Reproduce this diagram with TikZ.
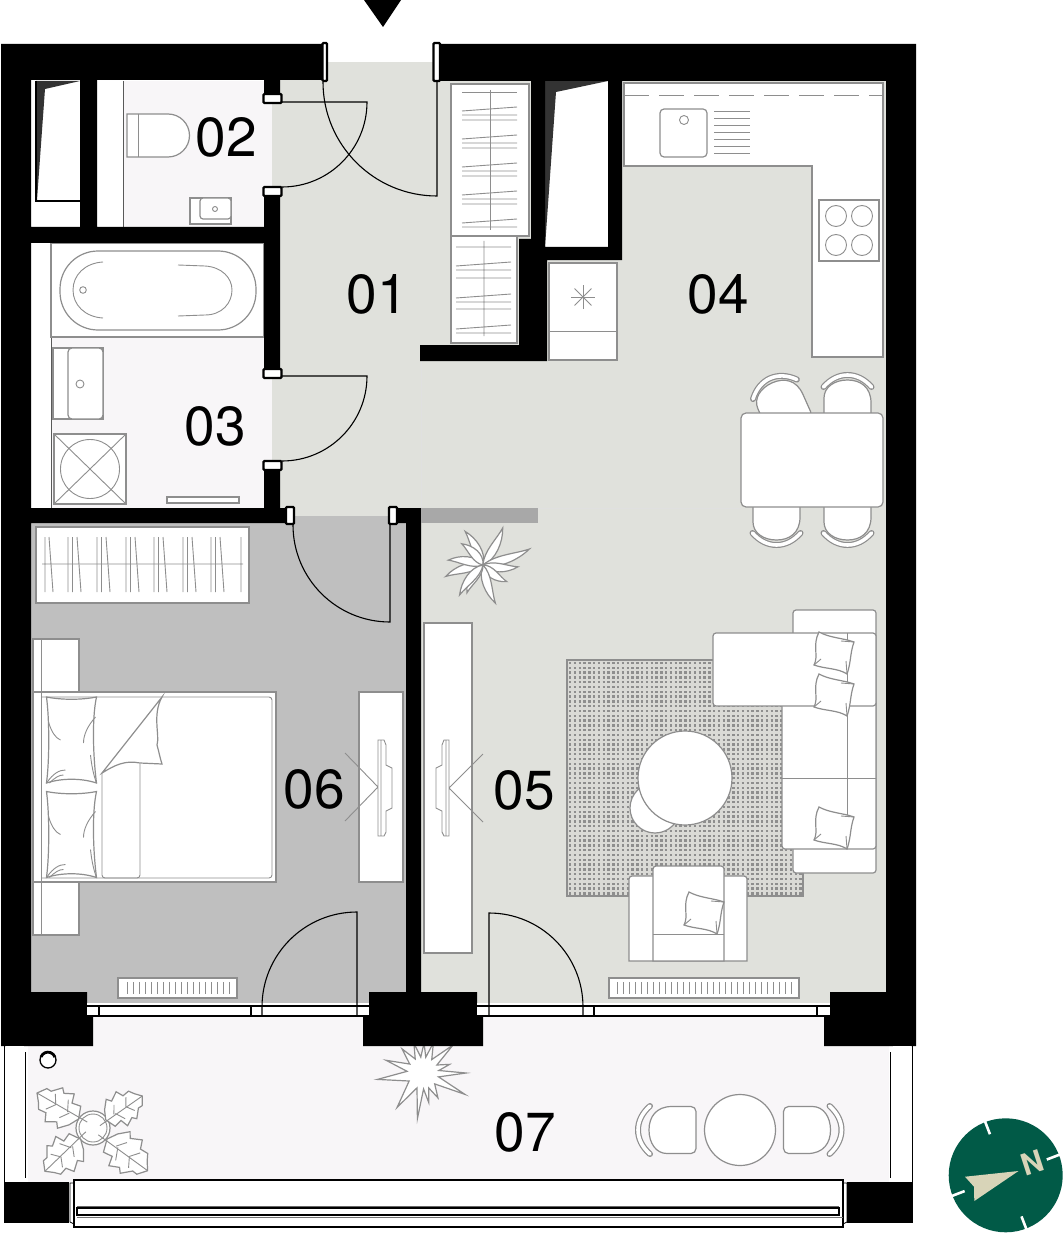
\documentclass[tikz,border=0pt]{standalone}
\usepackage{fontspec}
\setmainfont{TeX Gyre Heros}

\definecolor{floorgray}{HTML}{E0E1DC}
\definecolor{bedgray}{HTML}{BFBFBF}
\definecolor{wetlight}{HTML}{F8F6F8}
\definecolor{linegray}{HTML}{8E8E8E}
\definecolor{rugback}{HTML}{DADAD6}
\definecolor{compassgreen}{HTML}{015A47}
\definecolor{compassbeige}{HTML}{D8D4B8}

\tikzset{
  wall/.style={fill=black},
  furn/.style={draw=linegray, fill=white, line width=1.2pt},
  thinline/.style={draw=linegray, line width=0.9pt},
  doorline/.style={draw=black, line width=1.1pt},
  windowline/.style={draw=black, line width=1.2pt},
  jamb/.style={draw=black, fill=white, line width=2.4pt, rounded corners=1pt},
  roomlabel/.style={font=\fontsize{55}{55}\selectfont, inner sep=0pt},
  rugdots/.style={draw=linegray, line width=2.3pt, dash pattern=on 2.3pt off 2.5pt},
  pics/chair/.style={code={
    \draw[furn] (0,-33) .. controls (13,-33) and (23.5,-26) .. (23.5,-10) [rounded corners=5pt] -- (23.5,14) -- (-23.5,14)
      -- (-23.5,-10) [sharp corners] .. controls (-23.5,-26) and (-13,-33) .. (0,-33) -- cycle;
    \draw[draw=linegray, line width=6pt, line cap=round]
      (-24,-#1+12) .. controls (-10,-#1-4) and (10,-#1-4) .. (24,-#1+12);
    \draw[draw=white, line width=3.6pt, line cap=round]
      (-24,-#1+12) .. controls (-10,-#1-4) and (10,-#1-4) .. (24,-#1+12);
  }},
  pics/cushion/.style={code={
    \draw[furn] (-14,-21) .. controls (-3,-15) and (10,-15) .. (21,-11)
      .. controls (17,0) and (18,10) .. (14,21)
      .. controls (5,15) and (-8,16) .. (-19,12)
      .. controls (-14,3) and (-21,-8) .. (-14,-21) -- cycle;
    \draw[thinline] (14,21) -- (13,8) (-19,12) -- (-12,6) (21,-11) -- (8,-12);
  }},
  pics/bedpillow/.style={code={
    \draw[furn] (-25,-43) .. controls (-10,-40) and (10,-40) .. (25,-43)
      .. controls (20,-20) and (22,20) .. (25,43)
      .. controls (10,38) and (-10,38) .. (-25,43)
      .. controls (-22,20) and (-22,-20) .. (-25,-43) -- cycle;
    \draw[thinline] (-23,-18) .. controls (-20,-8) and (-16,-2) .. (-11,0)
      (24,-23) .. controls (16,-14) and (12,-5) .. (12,3)
      (-25,43) .. controls (-18,33) and (-12,30) .. (-6,30)
      (-22,43) .. controls (-16,37) and (-12,35) .. (-8,35)
      (19,15) .. controls (20,25) and (22,35) .. (25,43);
  }},
  pics/oakleaf/.style={code={
    \draw[furn] (17,0) -- (22,12) -- (31,10) -- (34,19) -- (43,14) -- (47,18) -- (55,9) -- (60,9) -- (66,0)
      -- (60,-7) -- (56,-13) -- (48,-12) -- (44,-20) -- (34,-14) -- (30,-19) -- (22,-10) -- cycle;
    \draw[thinline] (8,2) -- (66,0) (30,0) -- (36,11) (44,0) -- (50,9) (28,0) -- (34,-9) (44,0) -- (50,-9);
  }},
}

\begin{document}
\begin{tikzpicture}[x=1pt, y=-1pt]
  \useasboundingbox (0,0) rectangle (1063,1233);
  \fill[white] (0,0) rectangle (1063,1233);

  % floors
  \fill[floorgray] (272,62) rectangle (436,516);
  \fill[floorgray] (421,81) rectangle (886,1004);
  \fill[wetlight] (123,81) rectangle (272,227);
  \fill[wetlight] (51,243) rectangle (272,508);
  \fill[bedgray] (31,516) rectangle (406,1004);
  \fill[wetlight] (28,1046) rectangle (889,1182);
  \fill[wetlight] (93,1017) rectangle (824,1046);
  \draw[draw=black!12, line width=0.6pt] (421,361) -- (421,508) -- (741,508);
  \draw[draw=black!65, line width=0.9pt] (123,81) -- (123,227) (51,243) -- (51,508);

  % rug
  \fill[rugback] (567,660) rectangle (803,896);
  \foreach \rowy in {663,667.8,...,895} {
    \draw[rugdots] (569,\rowy) -- (802,\rowy);
  }
  \draw[draw=linegray, line width=1.4pt] (567,660) rectangle (803,896);

  % plants
  \foreach \ang/\len in {197/39,172/35,118/38,135/30,62/42,19/49,-3/35,-35/29,-72/40,-120/32,-128/38} {
    \draw[furn, shift={(483,565)}, rotate=\ang]
      (0,0) .. controls ({0.25*\len},9) and ({0.7*\len},7) .. (\len,0)
      .. controls ({0.7*\len},0) and ({0.3*\len},-6) .. (0,0) -- cycle;
  }
  \draw[furn, shift={(423,1073)}] (0:43) \foreach \ang/\len/\dent in {27/47/14,59/29/43,79/30/69,97/46/88,127/43/112,172/46/150,199/39/186,229/32/214,253/31/241,272/30/262,289/32/280,317/41/303,342/28/330,360/43/351} {
      -- (\dent:16) -- (\ang:\len)
    } -- cycle;
  \draw[furn] (93,1128) circle[radius=17];
  \draw[thinline] (93,1128) circle[radius=14];
  \pic[rotate=148] at (93,1128) {oakleaf};
  \pic[rotate=33, scale=0.89] at (93,1128) {oakleaf};
  \pic[rotate=222, scale=0.98] at (93,1128) {oakleaf};
  \pic[rotate=-38, scale=1.05] at (93,1128) {oakleaf};

  % bathroom
  \draw[furn] (51,243) rectangle (264,337);
  \draw[furn, rounded corners=38pt] (60,251) rectangle (256,330);
  \draw[thinline] (103,262) .. controls (85,263) and (73,275) .. (73,290) .. controls (73,305) and (85,317) .. (103,318)
    (178,265) -- (205,266) .. controls (222,267) and (232,278) .. (232,290) .. controls (232,303) and (222,315) .. (205,315) -- (178,316);
  \draw[thinline] (83,290) circle[radius=3.3];
  \draw[furn] (53,348) rectangle (103,419);
  \draw[furn, rounded corners=4pt] (68,348) rectangle (103,419);
  \draw[thinline] (80,384) circle[radius=4];
  \draw[furn] (54,434) rectangle (126,504);
  \draw[thinline] (90,469) circle[radius=29.5] (54,434) -- (126,504) (126,434) -- (54,504);
  \draw[furn] (167,497) rectangle (239,503);

  % toilet room
  \draw[furn] (127,114) -- (168,114) arc[start angle=-90, end angle=90, radius=21.5] -- (127,157) -- cycle;
  \draw[thinline] (138,114) -- (138,157);
  \draw[furn] (190,198) rectangle (231,224);
  \draw[furn, rounded corners=3pt] (200,198) rectangle (231,219);
  \draw[thinline] (215,209) circle[radius=2.5];

  % wardrobe hall
  \draw[furn] (451,84) rectangle (529,236);
  \draw[furn] (451,236) rectangle (517,343);
  \draw[thinline] (490,90) -- (490,230) (462,92) -- (517,92);
  \foreach \hangy in {111,139,167,195} {
    \draw[thinline] (462,\hangy) -- (517,\hangy-4) (462,\hangy+4) -- (517,\hangy+4) (462,\hangy+9) -- (517,\hangy+9);
  }
  \draw[thinline] (462,223) -- (517,219) (462,227) -- (517,227);
  \draw[thinline] (484,241) -- (484,336) (456,247) -- (511,247) (456,266) -- (511,262) (456,270) -- (511,270) (456,278) -- (511,278)
    (456,298) -- (511,294) (456,302) -- (511,302) (456,309) -- (511,309) (456,329) -- (511,325) (456,333) -- (511,333);

  % kitchen
  \draw[furn] (624,83) -- (883,83) -- (883,357) -- (812,357) -- (812,166) -- (624,166) -- cycle;
  \draw[thinline, dash pattern=on 25pt off 10pt] (624,95) -- (883,95);
  \draw[furn, rounded corners=4pt] (660,109) rectangle (707,157);
  \draw[thinline] (684,120) circle[radius=4.5];
  \foreach \sinky in {111,118.1,...,155} {
    \draw[thinline] (714,\sinky) -- (750,\sinky);
  }
  \draw[furn] (819,200) rectangle (879,261);
  \foreach \hobx/\hoby in {836/216,862/216,836/245,862/245} {
    \draw[thinline] (\hobx,\hoby) circle[radius=10.5];
  }
  \draw[furn] (549,263) rectangle (617,360);
  \draw[thinline] (549,331) -- (617,331);
  \foreach \ang in {0,45,...,135} {
    \draw[thinline, shift={(583,297)}, rotate=\ang] (-12,0) -- (12,0);
  }

  % dining
  \pic[rotate=24] at (785.5,413) {chair=38};
  \pic at (847.5,413) {chair=38};
  \pic[yscale=-1] at (776.5,507) {chair=38};
  \pic[yscale=-1] at (847.5,507) {chair=38};
  \draw[furn, rounded corners=5pt] (741,413) rectangle (883,507);

  % living
  \draw[furn] (424,623) rectangle (472,953);
  \draw[thinline] (449,740) -- (449,836) -- (444,836) -- (442,832) -- (442,811) -- (436,808) -- (436,768) -- (442,765) -- (442,745) -- (444,740) -- cycle
    (446,740) -- (446,836) (449,788) -- (483,754) (449,788) -- (483,822);
  \draw[furn, rounded corners=3pt] (793,610) rectangle (876,873);
  \draw[furn, rounded corners=3pt] (782,700) rectangle (876,849);
  \draw[furn, rounded corners=3pt] (713,633) rectangle (876,706);
  \draw[thinline] (847,633) -- (847,849) (782,778) -- (876,778);
  \pic at (833,653) {cushion};
  \pic at (833,695) {cushion};
  \pic at (833,828) {cushion};
  \draw[furn] (655,808) circle[radius=25];
  \draw[furn] (685,778) circle[radius=47];
  \draw[furn] (629,961) [rounded corners=3pt] -- (629,876) -- (747,876) [sharp corners] -- (747,961) -- cycle;
  \draw[furn] (653,961) [rounded corners=3pt] -- (653,866) -- (724,866) [sharp corners] -- (724,961) -- cycle;
  \draw[thinline] (653,934) -- (724,934);
  \pic at (703,913) {cushion};
  \draw[furn] (609,978) rectangle (799,998);
  \foreach \tickx in {617,623,...,791} {
    \draw[thinline] (\tickx,982) -- (\tickx,994);
  }

  % bedroom
  \draw[furn] (36,527) rectangle (249,603);
  \draw[thinline] (42,564) -- (243,564) (45,537) -- (45,592) (49,537) -- (53,592) (241,537) -- (241,592);
  \foreach \hangx in {68,97,126,154,183,211} {
    \draw[thinline] (\hangx,537) -- (\hangx,592) (\hangx+4.5,537) -- (\hangx+4.5,592) (\hangx+9,537) -- (\hangx+13,592);
  }
  \draw[furn] (33,639) rectangle (79,692);
  \draw[furn] (33,882) rectangle (79,935);
  \draw[furn] (33,692) rectangle (276,882);
  \draw[thinline] (41,639) -- (41,935);
  \draw[thinline, rounded corners=3pt] (41,697) -- (272,697) -- (272,878) -- (41,878);
  \pic at (71.5,740) {bedpillow};
  \pic at (71.5,834.5) {bedpillow};
  \draw[thinline, rounded corners=3pt] (102,773) -- (102,878) -- (140,878) -- (140,764);
  \draw[furn] (102,773) -- (162,697) .. controls (152,715) and (160,735) .. (157,745)
    .. controls (159,752) and (160,758) .. (162,764) -- (140,763) .. controls (125,760) and (115,765) .. (102,773) -- cycle;
  \draw[furn] (359,692) rectangle (403,882);
  \draw[thinline] (378,740) -- (378,836) -- (384,836) -- (386,832) -- (386,811) -- (392,808) -- (392,768) -- (386,765) -- (386,745) -- (384,740) -- cycle
    (381,740) -- (381,836) (378,787) -- (345,753) (378,787) -- (345,821);
  \draw[furn] (118,978) rectangle (237,998);
  \foreach \tickx in {127,133,...,229} {
    \draw[thinline] (\tickx,982) -- (\tickx,994);
  }

  % balcony furniture
  \draw[furn] (740,1130) circle[radius=35.5];
  \pic[rotate=90] at (682,1130) {chair=44};
  \pic[rotate=-90] at (797.5,1130) {chair=44};
  \draw[draw=black, fill=white, line width=1.3pt] (48,1060) circle[radius=8];
  \draw[draw=black, line width=2.8pt] (41,1057) arc[start angle=200, end angle=340, radius=7.4];

  % shafts
  \fill[white] (545,81) rectangle (608,247);
  \fill[black!80] (36,81) -- (80,81) -- (45,89) -- (37,200) -- cycle;
  \draw[draw=black, line width=1.2pt] (36,81) -- (36,201) -- (80,201);
  \fill[black!80] (545,81) -- (608,81) -- (556,92) -- (545,247) -- cycle;

  % walls
  \fill[wall] (1,44) rectangle (323,80) (441,44) rectangle (916,81)
    (1,44) rectangle (31,992) (886,44) rectangle (916,992)
    (80,80) rectangle (97,243) (31,227) rectangle (265,243)
    (264,80) rectangle (280,95) (264,195) rectangle (280,370) (264,462) rectangle (280,523)
    (31,508) rectangle (285,523) (396,508) rectangle (421,523) (406,523) rectangle (421,992)
    (420,345) rectangle (547,361) (519,239) rectangle (531,345) (531,260) rectangle (547,345)
    (531,81) rectangle (545,260) (531,247) rectangle (622,260) (608,81) rectangle (622,260);
  \fill[wall] (1,992) -- (87,992) -- (87,1017) -- (93,1017) -- (93,1046) -- (1,1046) -- cycle;
  \fill[wall] (369,992) -- (477,992) -- (477,1017) -- (483,1017) -- (483,1046) -- (363,1046) -- (363,1017) -- (369,1017) -- cycle;
  \fill[wall] (830,992) -- (916,992) -- (916,1046) -- (824,1046) -- (824,1017) -- (830,1017) -- cycle;
  \fill[wall] (4,1182) rectangle (69,1223);
  \fill[wall] (847,1182) rectangle (913,1223);
  \fill[black!34] (421,508) rectangle (538,523);

  % windows
  \fill[white] (87,1003) rectangle (369,1016);
  \fill[white] (477,1003) rectangle (830,1016);
  \draw[windowline] (87,1006) -- (369,1006) (87,1016) -- (369,1016)
    (99,1006) -- (99,1016) (251,1006) -- (251,1016)
    (477,1006) -- (830,1006) (477,1016) -- (830,1016)
    (594,1006) -- (594,1016) (817,1006) -- (817,1016);

  % balcony sides and front
  \fill[white] (6,1046) rectangle (24,1182);
  \draw[windowline] (4.5,1046) -- (4.5,1182) (25.5,1052) -- (25.5,1178);
  \fill[white] (893,1046) rectangle (911,1182);
  \draw[windowline] (890.5,1052) -- (890.5,1178) (912.5,1046) -- (912.5,1182);
  \draw[draw=black, fill=white, line width=1.2pt] (74,1180) rectangle (843,1227);
  \draw[draw=black, line width=0.8pt] (74,1183) -- (70,1183) -- (70,1222) -- (74,1224)
    (843,1183) -- (847,1183) -- (847,1222) -- (843,1224);
  \fill[black!60] (77,1206) rectangle (839,1208.5);
  \draw[draw=black, line width=1.1pt] (77,1208) rectangle (839,1215);
  \draw[draw=black!55, line width=1pt] (77,1217) -- (843,1217);

  % door frames
  \draw[jamb] (263.5,94) rectangle (281.5,103);
  \draw[jamb] (263.5,187) rectangle (281.5,196);
  \draw[jamb] (263.5,369) rectangle (281.5,378);
  \draw[jamb] (263.5,461) rectangle (281.5,470);
  \draw[jamb] (322.5,43) rectangle (327,81);
  \draw[jamb] (433.5,43) rectangle (440,81);
  \draw[jamb] (286,507) rectangle (294,524);
  \draw[jamb] (389,507) rectangle (397,524);

  % door swings
  \draw[doorline] (282,102) -- (367,102) arc[start angle=0, end angle=90, radius=85];
  \draw[doorline] (437,82) -- (437,196) arc[start angle=90, end angle=180, radius=114];
  \draw[doorline] (282,376) -- (367,376) arc[start angle=0, end angle=90, radius=85];
  \draw[doorline] (390,525) -- (390,622) arc[start angle=90, end angle=180, radius=97];
  \draw[doorline] (357,1016) -- (357,912) arc[start angle=270, end angle=180, radius=95] -- (262,1016);
  \draw[doorline] (489,1016) -- (489,913) arc[start angle=270, end angle=360, radius=94] -- (583,1016);

  % entrance mark
  \fill[black] (364,0) -- (401,0) -- (383,27) -- cycle;

  % labels
  \node[roomlabel] (room01) at (377,294) {01};
  \node[roomlabel] (room02) at (226,137) {02};
  \node[roomlabel] (room03) at (215,426) {03};
  \node[roomlabel] (room04) at (718,294) {04};
  \node[roomlabel] (room05) at (524,790) {05};
  \node[roomlabel] (room06) at (314,789) {06};
  \node[roomlabel] (room07) at (525,1132) {07};

  % compass
  \fill[compassgreen] (1005.7,1175.3) circle[radius=57];
  \foreach \ang in {-111,-21,69,159} {
    \draw[draw=white, line width=2.6pt, shift={(1005.7,1175.3)}] (\ang:44) -- (\ang:58);
  }
  \fill[compassbeige] (1018.5,1171) -- (965,1176.7) -- (974,1186.7) -- (974.3,1201) -- cycle;
  \node[text=compassbeige, rotate=18, inner sep=0pt, font=\fontsize{30}{30}\selectfont\bfseries] (northmark) at (1032,1163) {N};
\end{tikzpicture}
\end{document}
